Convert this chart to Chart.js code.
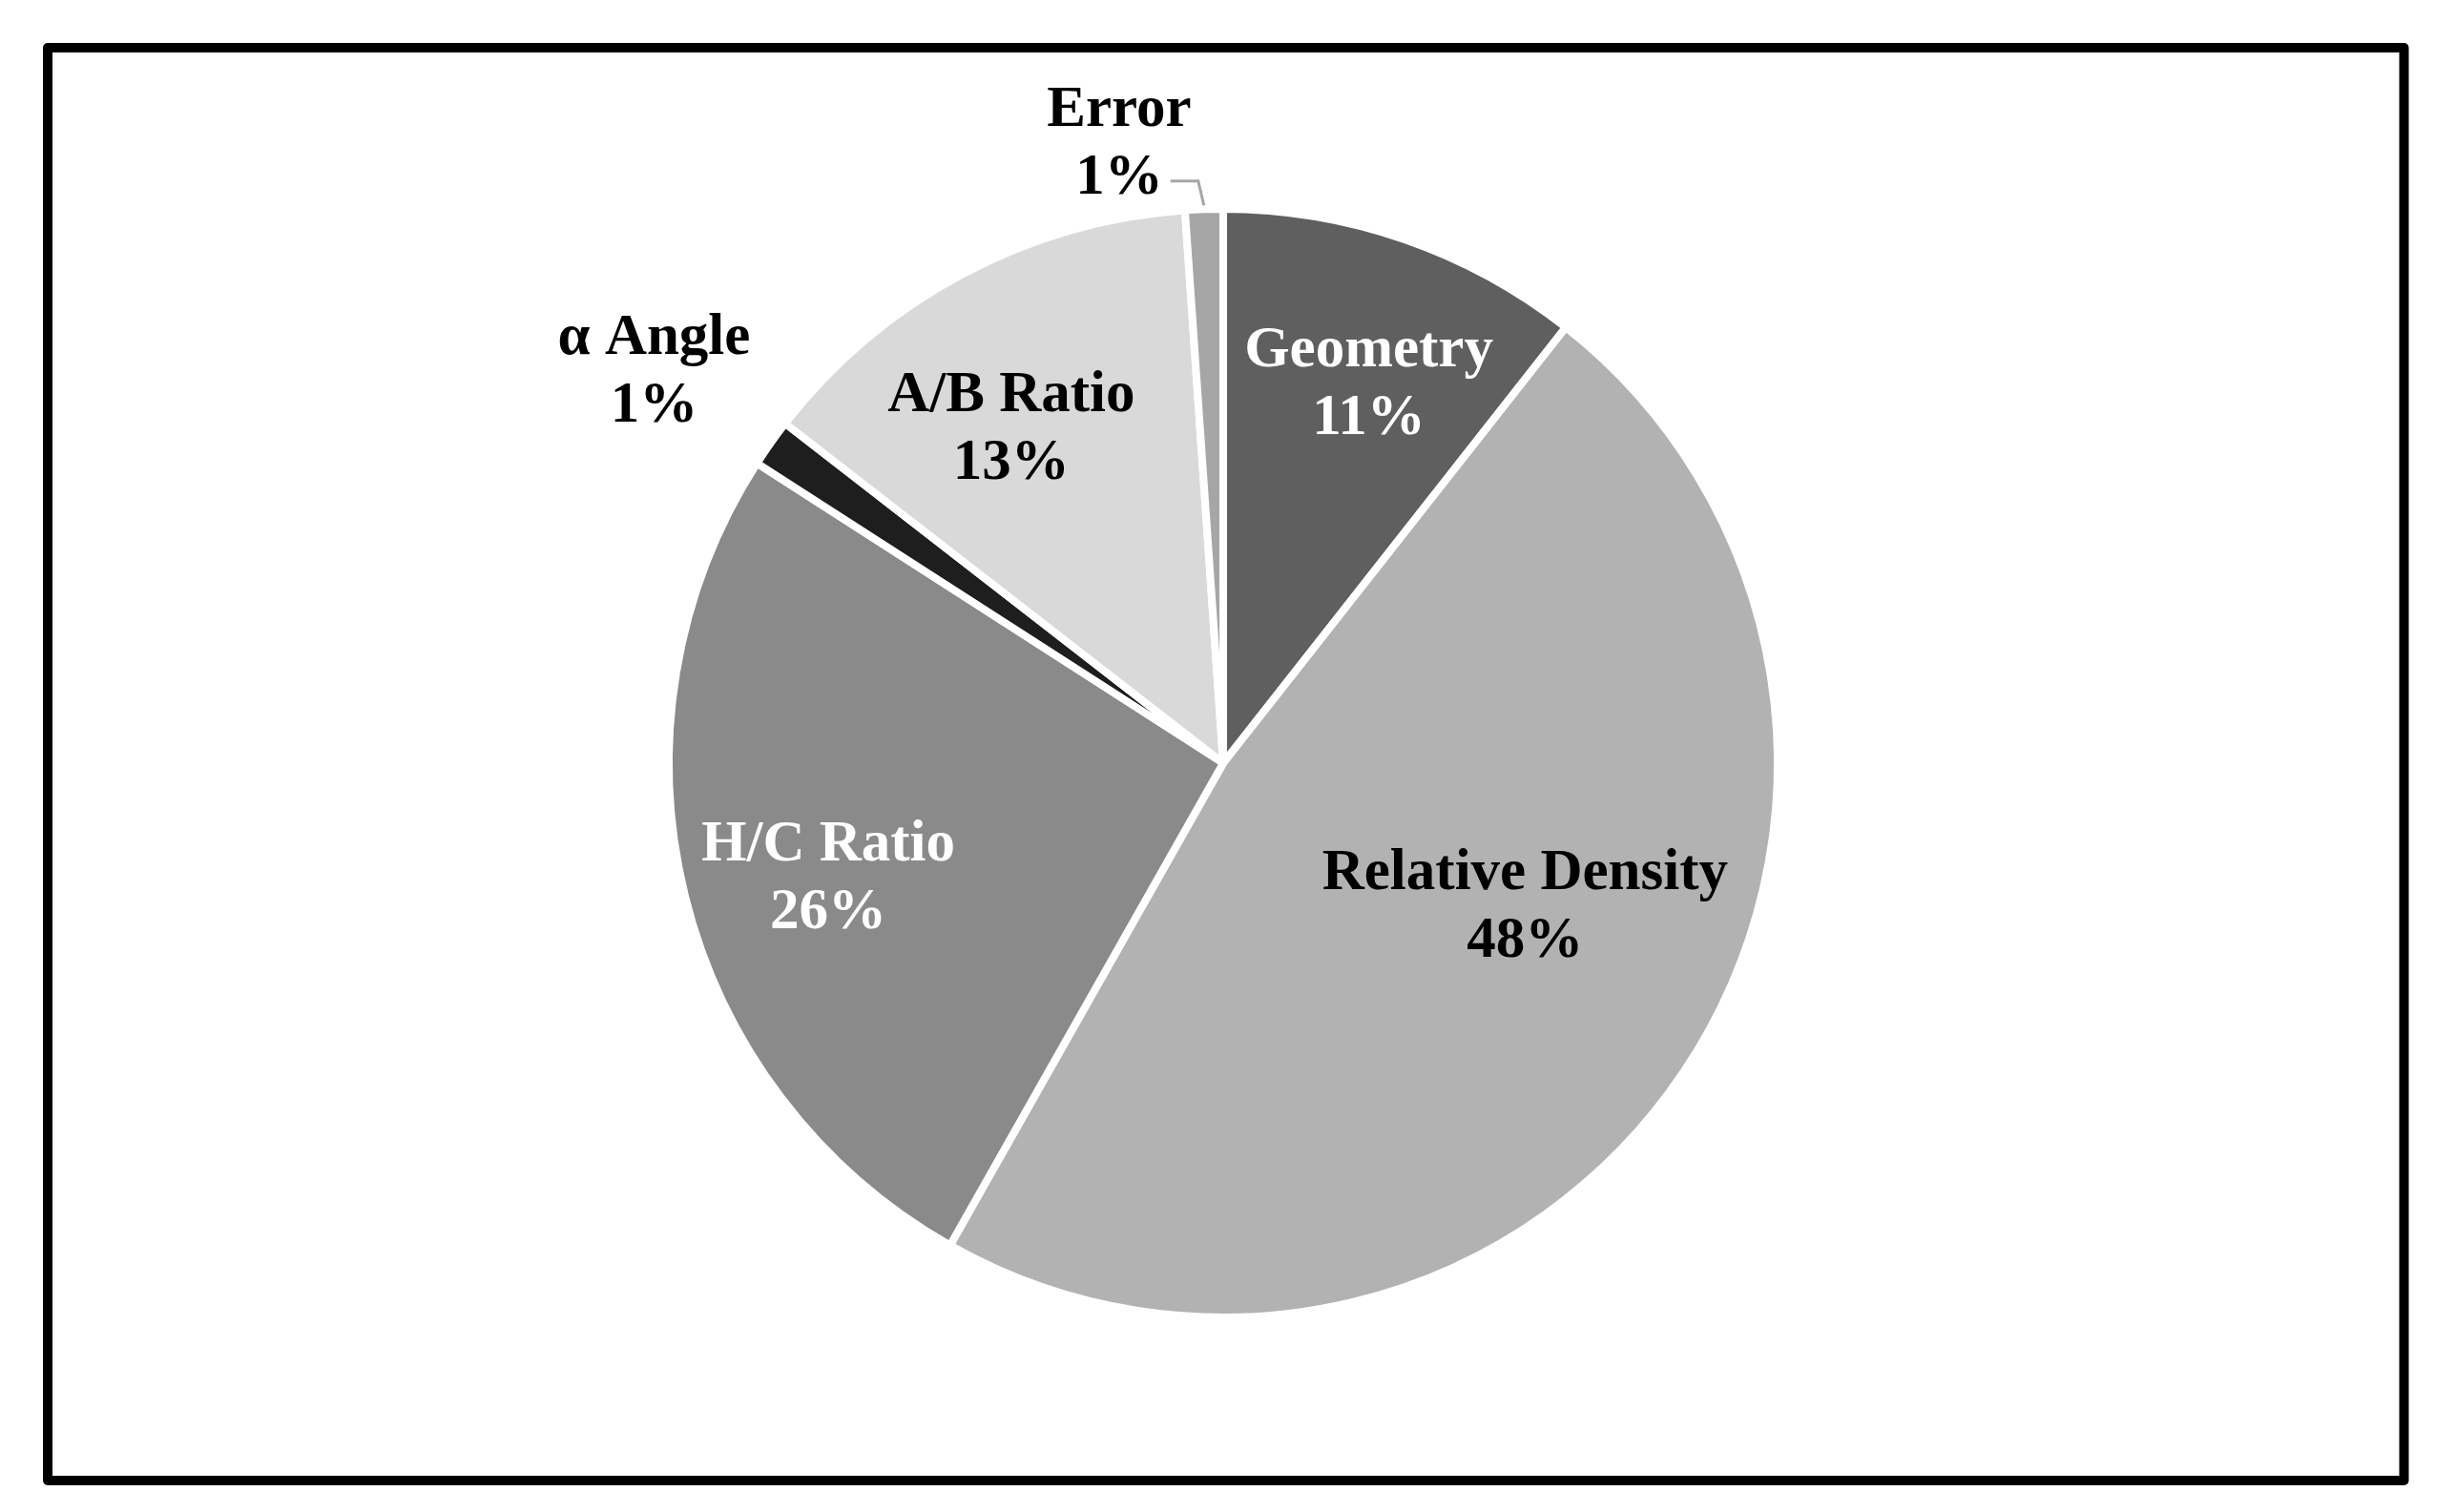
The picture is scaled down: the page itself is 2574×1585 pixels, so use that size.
<!DOCTYPE html>
<html>
<head>
<meta charset="utf-8">
<script src="https://cdn.jsdelivr.net/npm/chart.js@4.4.1/dist/chart.umd.min.js"></script>
<style>
    html, body { margin: 0; padding: 0; background: #ffffff; }
    #wrap { width: 2574px; height: 1585px; }
</style>
</head>
<body>
<div id="wrap"><canvas id="Chart1" width="2574" height="1585"></canvas></div>
<script>
const labels = ['Geometry', 'Relative Density', 'H/C Ratio', '\u03b1 Angle', 'A/B Ratio', 'Error'];
const shares = [10.6, 47.6, 25.9, 1.4, 13.4, 1.1];
const pctText = ['11%', '48%', '26%', '1%', '13%', '1%'];
const sliceColors = ['#5f5f5f', '#b2b2b2', '#8a8a8a', '#1e1e1e', '#d9d9d9', '#a6a6a6'];
const textColors = ['#ffffff', '#000000', '#ffffff', '#000000', '#000000', '#000000'];
// label placement: fraction of radius, angle shift (deg) from slice middle
const labelRadius = [0.74, 0.60, 0.74, 1.25, 0.72, 1.14];
const labelShift = [1.7, -9, -1.8, -0.5, -4, -7.5];

const frame = {
    id: 'frame',
    beforeDraw: (chart) => {
        const ctx = chart.ctx;
        ctx.save();
        ctx.fillStyle = '#ffffff';
        ctx.fillRect(0, 0, chart.width, chart.height);
        ctx.strokeStyle = '#000000';
        ctx.lineWidth = 10;
        ctx.lineJoin = 'round';
        ctx.strokeRect(50, 50, 2469.5, 1502);
        ctx.restore();
    }
};

const sliceLabels = {
    id: 'sliceLabels',
    afterDatasetsDraw: (chart) => {
        const ctx = chart.ctx;
        const arcs = chart.getDatasetMeta(0).data;
        ctx.save();
        ctx.font = 'bold 61px "Liberation Serif", "Times New Roman", serif';
        ctx.textAlign = 'center';
        ctx.textBaseline = 'middle';
        arcs.forEach((arc, i) => {
            const p = arc.getProps(['x', 'y', 'startAngle', 'endAngle', 'outerRadius'], true);
            const mid = (p.startAngle + p.endAngle) / 2;
            const a = mid + labelShift[i] * Math.PI / 180;
            const lx = p.x + Math.cos(a) * p.outerRadius * labelRadius[i];
            const ly = p.y + Math.sin(a) * p.outerRadius * labelRadius[i] + 5;
            ctx.fillStyle = textColors[i];
            ctx.fillText(labels[i], lx, ly - 35);
            ctx.fillText(pctText[i], lx, ly + 36);

            if (labels[i] === 'Error') {
                const tw = ctx.measureText(pctText[i]).width;
                const ex = p.x + Math.cos(mid) * (p.outerRadius + 4);
                const ey = p.y + Math.sin(mid) * (p.outerRadius + 4);
                ctx.strokeStyle = '#a6a6a6';
                ctx.lineWidth = 3;
                ctx.beginPath();
                ctx.moveTo(ex, ey);
                ctx.lineTo(ex - 6, ly + 38);
                ctx.lineTo(lx + tw / 2 + 8, ly + 38);
                ctx.stroke();
            }
        });
        ctx.restore();
    }
};

const canvas = document.getElementById('Chart1');
const ctx = canvas.getContext('2d');

new Chart(ctx, {
    type: 'pie',
    data: {
        labels: labels,
        datasets: [{
            data: shares,
            backgroundColor: sliceColors,
            borderColor: '#ffffff',
            borderWidth: 8
        }]
    },
    options: {
        responsive: false,
        animation: false,
        layout: { padding: { top: 215, bottom: 200, left: 0, right: 10 } },
        plugins: {
            legend: { display: false },
            tooltip: { enabled: false }
        }
    },
    plugins: [frame, sliceLabels]
});
</script>
</body>
</html>
